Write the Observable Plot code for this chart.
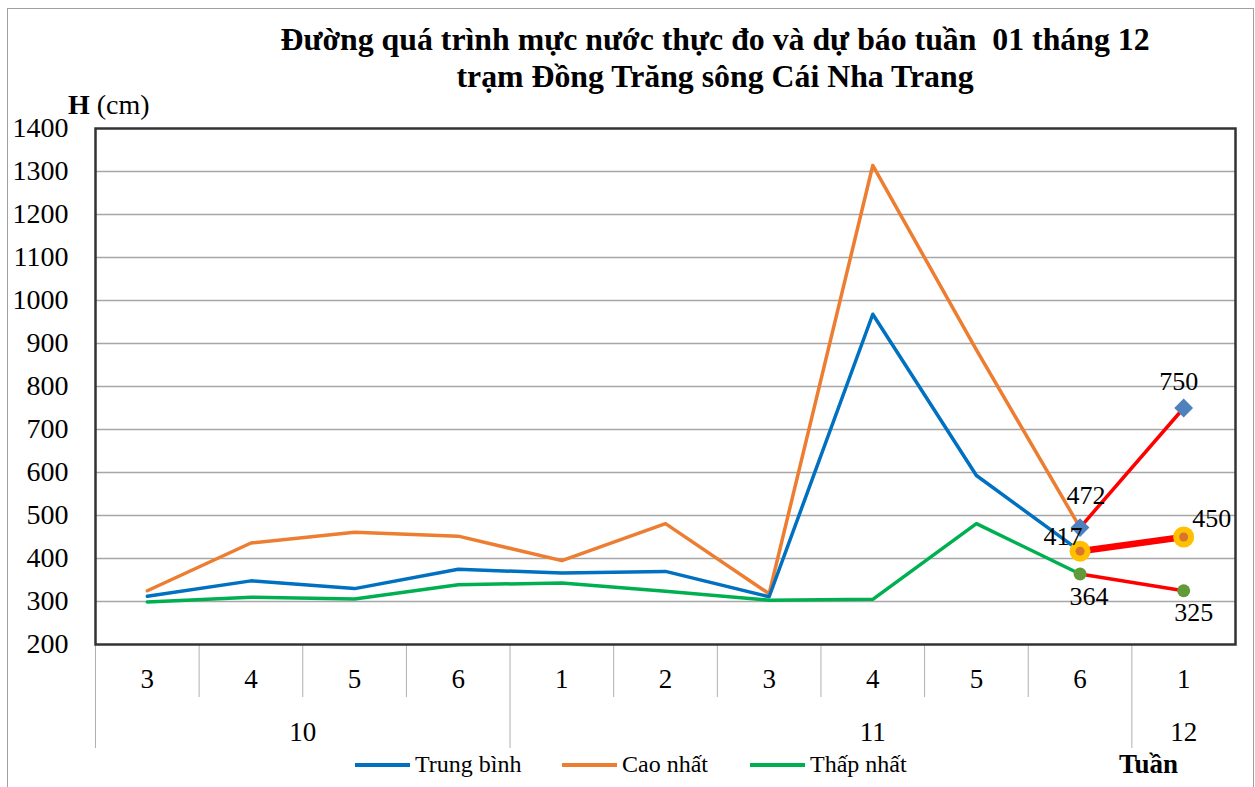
<!DOCTYPE html>
<html><head><meta charset="utf-8">
<script src="https://cdn.jsdelivr.net/npm/d3@7"></script>
<script src="https://cdn.jsdelivr.net/npm/@observablehq/plot@0.6"></script>
<style>
body{margin:0;background:#fff;font-family:"Liberation Serif",serif;}
#wrap{position:relative;width:1255px;height:787px;overflow:hidden;}
#border{position:absolute;left:7px;top:8px;width:1245px;height:800px;border:1px solid #a0a0a0;}
#title{position:absolute;left:0;top:21px;width:1255px;padding-left:175px;box-sizing:border-box;text-align:center;font-weight:bold;font-size:31.8px;line-height:37px;}
#ylab{position:absolute;left:68px;top:89px;font-size:28px;}
#legend{position:absolute;top:751px;left:0;width:1255px;height:30px;font-size:24px;}
.li{position:absolute;display:flex;align-items:center;}
.sw{display:inline-block;width:55px;height:4px;margin-right:5px;}
#tuan{position:absolute;left:1119px;top:749px;font-weight:bold;font-size:27px;}
svg{position:absolute;left:0;top:0;}
</style></head><body>
<div id="wrap">
<div id="border"></div>
<div id="chart"></div>
<div id="title">Đường quá trình mực nước thực đo và dự báo tuần&nbsp; 01 tháng 12<br>trạm Đồng Trăng sông Cái Nha Trang</div>
<div id="ylab"><b>H</b> (cm)</div>
<div id="legend">
 <div class="li" style="left:355px;top:0"><span class="sw" style="background:#0070C0"></span>Trung bình</div>
 <div class="li" style="left:562px;top:0"><span class="sw" style="background:#ED7D31"></span>Cao nhất</div>
 <div class="li" style="left:750px;top:0"><span class="sw" style="background:#00B050"></span>Thấp nhất</div>
</div>
<div id="tuan">Tuần</div>
</div>
<script>
const weeks = ["3","4","5","6","1","2","3","4","5","6","1"];
const months = ["10","11","12"];
const monthCenters = [1.5, 7, 10];
const trungBinh = [312, 348, 330, 375, 366, 370, 311, 968, 593, 417];
const caoNhat = [325, 436, 461, 452, 395, 481, 318, 1314, 885, 472];
const thapNhat = [299, 310, 306, 339, 343, 324, 303, 305, 481, 364];
const forecastMax = [472, 750];
const forecastAvg = [417, 450];
const forecastMin = [364, 325];
const yTicks = [200,300,400,500,600,700,800,900,1000,1100,1200,1300,1400];

const series = (vals) => vals.map((v,i)=>({i, v}));
const fc = (vals) => vals.map((v,k)=>({i: 9+k, v}));
const weekBounds = [1,2,3,5,6,7,8,9];
const monthBounds = [-0.5, 3.5, 9.5];
const font = "Liberation Serif";

function label(vals, k, dx, dy) {
  return Plot.text(fc(vals).filter(d => d.i === 9 + k), {x: "i", y: "v", text: d=>String(d.v), dx, dy, fontSize: 26, fontFamily: font});
}

const plot = Plot.plot({
  width: 1255, height: 787,
  marginTop: 128, marginBottom: 143, marginLeft: 95, marginRight: 20,
  style: {fontFamily: font, background: "transparent"},
  x: {type: "linear", domain: [-0.5, 10.5], axis: null},
  y: {domain: [200, 1400], axis: null},
  marks: [
    Plot.gridY(yTicks.slice(1, -1), {stroke: "#a6a6a6", strokeOpacity: 1, strokeWidth: 1.5}),
    Plot.axisY(yTicks, {tickSize: 0, tickPadding: 27, fontSize: 28, fontFamily: font, label: null, tickFormat: d=>String(d)}),
    Plot.ruleX(weekBounds.map(d=>d-0.5), {insetTop: 516, insetBottom: -53, stroke: "#b0b0b0", strokeWidth: 1}),
    Plot.ruleX(monthBounds, {insetTop: 516, insetBottom: -104, stroke: "#b0b0b0", strokeWidth: 1}),
    Plot.text(weeks, {x: (d,i)=>i, text: d=>d, frameAnchor: "bottom", lineAnchor: "middle", dy: 35, fontSize: 27, fontFamily: font}),
    Plot.text(months, {x: (d,i)=>monthCenters[i], text: d=>d, frameAnchor: "bottom", lineAnchor: "middle", dy: 88, fontSize: 27, fontFamily: font}),
    Plot.line(series(caoNhat), {x: "i", y: "v", stroke: "#ED7D31", strokeWidth: 3.5}),
    Plot.line(series(trungBinh), {x: "i", y: "v", stroke: "#0070C0", strokeWidth: 3.5}),
    Plot.line(series(thapNhat), {x: "i", y: "v", stroke: "#00B050", strokeWidth: 3.5}),
    Plot.line(fc(forecastMax), {x: "i", y: "v", stroke: "#FF0000", strokeWidth: 3.5}),
    Plot.line(fc(forecastMin), {x: "i", y: "v", stroke: "#FF0000", strokeWidth: 3.5}),
    Plot.line(fc(forecastAvg), {x: "i", y: "v", stroke: "#FF0000", strokeWidth: 6.5}),
    Plot.dot(fc(forecastMax), {x: "i", y: "v", symbol: "square", r: 7.5, fill: "#4F81BD", rotate: 45}),
    Plot.dot(fc(forecastAvg), {x: "i", y: "v", r: 10.5, fill: "#FFC000"}),
    Plot.dot(fc(forecastAvg), {x: "i", y: "v", r: 4.5, fill: "#D9742F"}),
    Plot.dot(fc(forecastMin), {x: "i", y: "v", r: 6.5, fill: "#629A3A"}),
    label(forecastMax, 0, 6, -32),
    label(forecastMax, 1, -5, -26),
    label(forecastAvg, 0, -17, -15),
    label(forecastAvg, 1, 28, -18),
    label(forecastMin, 0, 9, 23),
    label(forecastMin, 1, 10, 22),
    Plot.frame({stroke: "#333", strokeWidth: 2.5})
  ]
});
document.getElementById("chart").appendChild(plot);
</script>
</body></html>
